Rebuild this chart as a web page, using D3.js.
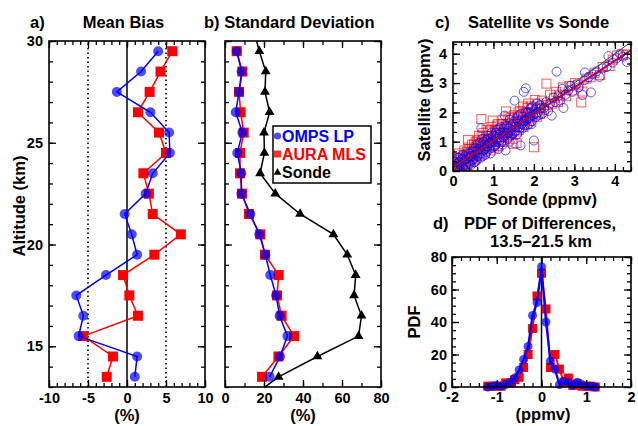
<!DOCTYPE html>
<html>
<head>
<meta charset="utf-8">
<script src="https://cdn.jsdelivr.net/npm/d3@7"></script>
<style>
  body { margin: 0; background: #fff; }
  svg text { font-family: 'Liberation Sans', Arial, Helvetica, sans-serif; font-weight: bold; fill: #000; }
</style>
</head>
<body>
<svg id="chart" width="638" height="426"></svg>
<script>
/* altitude levels, bottom to top (km) */
const altitudes = [13.5, 14.5, 15.5, 16.5, 17.5, 18.5, 19.5, 20.5, 21.5, 22.5, 23.5, 24.5, 25.5, 26.5, 27.5, 28.5, 29.5];
/* sonde line runs past the frame on both ends */
const sondeAltitudes = [12.5, 13.5, 14.5, 15.5, 16.5, 17.5, 18.5, 19.5, 20.5, 21.5, 22.5, 23.5, 24.5, 25.5, 26.5, 27.5, 28.5, 29.5, 30.5];

/* a) mean bias (%) */
const ompsBias = [1.0, 1.3, -6.2, -5.6, -6.5, -2.7, 1.3, 0.6, -0.3, 2.4, 3.3, 5.5, 5.4, 3.0, -1.3, 1.8, 4.0];
const mlsBias = [-2.6, -1.8, -5.6, 1.4, 0.3, -0.5, 3.5, 6.9, 3.3, 2.8, 2.1, 5.0, 4.1, 1.4, 2.9, 4.3, 5.8];

/* b) standard deviation (%) */
const ompsSD = [22.9, 28.2, 32.0, 28.0, 26.2, 23.2, 20.7, 17.6, 13.0, 8.4, 8.4, 6.3, 8.9, 5.5, 7.2, 8.5, 6.0];
const mlsSD = [19.0, 27.4, 35.4, 29.0, 26.7, 27.5, 20.5, 18.1, 12.3, 8.7, 7.7, 7.7, 9.6, 8.0, 7.2, 8.9, 6.0];
const sondeSD = [13.5, 27.5, 47.4, 68.5, 70.0, 66.2, 67.0, 62.7, 55.6, 38.5, 25.8, 18.0, 20.2, 20.0, 22.9, 20.5, 20.9, 17.6, 14.8];

/* c) satellite vs sonde (ppmv), [sonde, satellite] */
const ompsScatter = [
  [0.02,0.05],[0.05,0.15],[0.08,0.02],[0.1,0.25],[0.12,0.1],[0.15,0.3],[0.18,0.05],[0.2,0.2],[0.22,0.4],[0.25,0.15],
  [0.28,0.35],[0.3,0.5],[0.32,0.22],[0.35,0.45],[0.38,0.3],[0.4,0.6],[0.42,0.25],[0.45,0.5],[0.48,0.7],[0.5,0.4],
  [0.52,0.8],[0.55,0.55],[0.58,0.35],[0.6,0.7],[0.62,0.95],[0.65,0.6],[0.68,0.45],[0.7,0.85],[0.7,1.46],[0.72,1.1],
  [0.75,0.7],[0.78,0.9],[0.8,0.55],[0.82,1.05],[0.85,0.85],[0.88,1.2],[0.9,0.75],[0.92,0.95],[0.95,1.3],[0.98,0.8],
  [1.0,1.05],[1.02,1.2],[1.05,0.9],[1.08,1.4],[1.1,1.1],[1.12,0.75],[1.15,1.25],[1.18,1.5],[1.2,1.0],[1.22,1.35],
  [1.25,1.15],[1.28,1.89],[1.3,0.7],[1.32,1.3],[1.35,1.1],[1.38,1.45],[1.4,1.75],[1.42,1.2],[1.45,1.4],[1.48,1.6],
  [1.5,1.3],[1.52,2.4],[1.55,1.5],[1.58,1.25],[1.6,1.7],[1.62,1.9],[1.65,1.45],[1.67,0.87],[1.7,1.6],[1.72,1.85],
  [1.75,2.7],[1.78,1.55],[1.8,2.82],[1.82,1.75],[1.85,2.0],[1.88,1.6],[1.9,1.85],[1.92,2.15],[1.95,1.7],[1.98,1.9],
  [2.0,1.04],[2.02,2.1],[2.05,1.85],[2.07,2.17],[2.1,2.0],[2.15,2.25],[2.2,1.95],[2.25,2.15],[2.3,2.35],[2.35,2.05],
  [2.4,2.3],[2.44,1.89],[2.48,2.5],[2.52,2.35],[2.56,3.39],[2.6,2.55],[2.65,2.4],[2.7,2.8],[2.73,2.15],[2.78,2.6],
  [2.85,2.75],[2.9,2.9],[2.95,2.7],[3.05,2.95],[3.1,2.85],[3.2,2.59],[3.25,3.1],[3.26,3.36],[3.35,3.2],[3.41,2.68],
  [3.45,3.3],[3.55,3.4],[3.62,3.21],[3.7,3.5],[3.8,3.55],[3.84,3.92],[3.95,3.7],[4.05,3.85],[4.13,4.0],[4.2,3.9],[4.3,3.72],
  [0.04,0.3],[0.07,0.4],[0.13,0.45],[0.16,0.0],[0.19,0.5],[0.24,0.55],[0.27,0.05],[0.33,0.6],[0.36,0.15],[0.41,0.45],
  [0.44,0.2],[0.46,0.35],[0.5,0.65],[0.53,0.3],[0.56,0.8],[0.6,0.5],[0.63,0.75],[0.66,0.95],[0.69,0.6],[0.73,0.5],
  [0.76,1.0],[0.79,0.75],[0.83,0.65],[0.86,1.1],[0.89,0.95],[0.93,0.6],[0.96,1.0],[0.99,1.2],[1.03,0.85],[1.06,1.3],
  [1.09,1.0],[1.13,1.45],[1.16,1.05],[1.19,1.3],[1.23,0.9],[1.26,1.45],[1.29,1.2],[1.33,1.55],[1.36,1.3],[1.4,1.0],
  [1.43,1.55],[1.46,1.25],[1.5,1.7],[1.54,1.35],[1.57,1.8],[1.61,1.5],[1.64,1.65],[1.68,1.95],[1.71,1.45],[1.76,1.7],
  [1.79,2.0],[1.83,1.55],[1.86,1.8],[1.91,2.0],[1.94,1.6],[1.97,2.2],[2.03,1.95],[2.08,2.3],[2.12,1.9],[2.18,2.15]
];
const mlsScatter = [
  [0.03,0.1],[0.06,0.25],[0.09,0.05],[0.11,0.35],[0.14,0.15],[0.17,0.45],[0.2,0.1],[0.23,0.3],[0.26,0.55],[0.29,0.2],
  [0.31,0.4],[0.34,0.65],[0.37,1.06],[0.39,0.35],[0.41,0.75],[0.44,0.5],[0.47,0.9],[0.5,0.3],[0.53,0.65],[0.56,1.0],
  [0.59,0.5],[0.61,0.85],[0.64,1.2],[0.67,0.7],[0.7,1.77],[0.72,0.95],[0.75,1.3],[0.78,0.6],[0.81,1.1],[0.84,0.85],
  [0.87,1.35],[0.9,1.0],[0.93,0.7],[0.96,1.2],[0.98,1.72],[1.0,0.9],[1.03,1.4],[1.06,1.1],[1.09,1.55],[1.12,0.85],
  [1.15,1.3],[1.18,1.0],[1.21,1.6],[1.24,1.25],[1.27,1.45],[1.31,2.03],[1.33,1.15],[1.36,1.6],[1.39,1.35],[1.42,1.8],
  [1.45,1.1],[1.49,0.93],[1.52,1.5],[1.57,0.95],[1.6,1.85],[1.63,1.4],[1.66,2.05],[1.7,1.7],[1.74,1.5],[1.77,2.0],
  [1.8,1.75],[1.84,2.15],[1.88,1.8],[1.92,2.2],[1.96,1.95],[2.0,0.81],[2.02,2.42],[2.05,2.0],[2.1,2.3],[2.15,1.95],
  [2.2,2.4],[2.25,2.1],[2.31,2.98],[2.35,2.25],[2.4,2.6],[2.45,2.3],[2.5,2.5],[2.55,2.7],[2.6,2.35],[2.65,2.6],
  [2.72,2.85],[2.8,2.55],[2.88,2.9],[2.95,2.75],[3.02,3.0],[3.1,2.95],[3.17,2.34],[3.2,2.71],[3.3,3.15],[3.4,3.2],
  [3.5,3.35],[3.64,3.27],[3.7,3.55],[3.87,3.58],[3.95,3.8],[4.05,3.94],[4.2,3.95],[4.3,3.98],
  [0.02,0.3],[0.05,0.0],[0.08,0.45],[0.12,0.2],[0.15,0.6],[0.19,0.3],[0.22,0.05],[0.25,0.4],[0.28,0.7],[0.32,0.25],
  [0.35,0.5],[0.38,0.8],[0.42,0.35],[0.45,0.65],[0.48,0.45],[0.52,0.9],[0.55,0.4],[0.58,0.75],[0.62,1.05],[0.65,0.55],
  [0.68,0.9],[0.71,1.2],[0.74,0.75],[0.77,1.05],[0.8,0.8],[0.83,1.4],[0.86,0.95],[0.89,1.2],[0.92,0.85],[0.95,1.5],
  [0.99,1.1],[1.02,0.8],[1.05,1.35],[1.08,1.15],[1.11,1.6],[1.14,1.0],[1.17,1.4],[1.2,1.15],[1.23,1.75],[1.26,1.05],
  [1.3,1.5],[1.34,1.3],[1.37,1.85],[1.4,1.5],[1.44,1.3],[1.47,1.65],[1.51,1.9],[1.55,1.6],[1.58,1.35],[1.62,2.0],
  [1.65,1.6],[1.69,1.85],[1.73,2.2],[1.76,1.6],[1.81,1.95],[1.86,2.3],[1.9,1.7],[1.95,2.1],[2.08,1.85],[2.18,2.2]
];
/* linear fits [intercept, slope] */
const ompsFit = [0.12, 0.91];
const mlsFit = [0.13, 0.905];

/* d) PDF of differences */
const pdfBins = [-1.2, -1.1, -1.0, -0.9, -0.8, -0.7, -0.6, -0.5, -0.4, -0.3, -0.2, -0.1, 0, 0.1, 0.2, 0.3, 0.4, 0.5, 0.6, 0.7, 0.8, 0.9, 1.0, 1.1, 1.2];
const ompsPDF = [0, 0.5, 1, 0.5, 1.5, 3, 5.5, 10.5, 17, 25, 44, 52, 74, 40, 16, 11, 1.5, 3.5, 3, 1, 3, 1.5, 0.5, 0.5, 0];
const mlsPDF = [0.5, 0.5, 0.5, 0.5, 2.5, 2.5, 4.5, 6, 12, 20, 36, 56, 70, 48, 12, 20, 11, 3, 5.5, 1, 2, 0.5, 0.5, 0.5, 0];

/* tick labels */
const altTicks = [15, 20, 25, 30];
const biasTicks = [-10, -5, 0, 5, 10];
const sdTicks = [0, 20, 40, 60, 80];
const ppmvTicks = [0, 1, 2, 3, 4];
const diffTicks = [-2, -1, 0, 1, 2];
const pdfTicks = [0, 20, 40, 60, 80];

const BLUE = '#0000ff', RED = '#ff0000';
const svg = d3.select('#chart');
svg.append('rect').attr('width', 638).attr('height', 426).attr('fill', '#fff');

/* draws the box, inward ticks on all four sides, labels bottom/left */
function frame(g, x, y, o) {
  const [x0, x1] = x.range(), [y0, y1] = y.range();
  const fmt = d => String(d);
  const put = (axis, tx, ty) => g.append('g')
    .attr('transform', `translate(${tx},${ty})`)
    .call(axis)
    .call(s => s.select('.domain').remove())
    .call(s => s.selectAll('line').attr('stroke-width', 1.3))
    .call(s => s.selectAll('text').style('font-size', '14.5px').style('font-family', null));

  put(d3.axisBottom(x).tickValues(o.xMajor).tickSize(-7).tickPadding(o.xPad || 6).tickFormat(fmt), 0, y0);
  put(d3.axisBottom(x).tickValues(o.xMinor).tickSize(-4).tickFormat(''), 0, y0);
  put(d3.axisTop(x).tickValues(o.xMajor).tickSize(-7).tickFormat(''), 0, y1);
  put(d3.axisTop(x).tickValues(o.xMinor).tickSize(-4).tickFormat(''), 0, y1);
  put(d3.axisLeft(y).tickValues(o.yMajor).tickSize(-7).tickPadding(o.yPad || 6).tickFormat(o.yLabels ? fmt : ''), x0, 0);
  put(d3.axisLeft(y).tickValues(o.yMinor).tickSize(-4).tickFormat(''), x0, 0);
  put(d3.axisRight(y).tickValues(o.yMajor).tickSize(-7).tickFormat(''), x1, 0);
  put(d3.axisRight(y).tickValues(o.yMinor).tickSize(-4).tickFormat(''), x1, 0);

  g.append('rect')
    .attr('x', x0).attr('y', y1).attr('width', x1 - x0).attr('height', y0 - y1)
    .attr('fill', 'none').attr('stroke', '#000').attr('stroke-width', 1.6);
}

function text(str, x, y, size, anchor, rotate) {
  const t = svg.append('text').text(str)
    .attr('text-anchor', anchor || 'middle')
    .style('font-size', size + 'px');
  if (rotate) t.attr('transform', `translate(${x},${y}) rotate(-90)`);
  else t.attr('x', x).attr('y', y);
  return t;
}

function circles(g, data, x, y, r) {
  g.selectAll(null).data(data).join('circle')
    .attr('cx', d => x(d[0])).attr('cy', d => y(d[1])).attr('r', r)
    .attr('fill', BLUE).attr('fill-opacity', 0.7);
}
function squares(g, data, x, y, s) {
  g.selectAll(null).data(data).join('rect')
    .attr('x', d => x(d[0]) - s / 2).attr('y', d => y(d[1]) - s / 2)
    .attr('width', s).attr('height', s).attr('fill', RED);
}
function path(g, data, x, y, color, w) {
  g.append('path').datum(data)
    .attr('d', d3.line().x(d => x(d[0])).y(d => y(d[1])))
    .attr('fill', 'none').attr('stroke', color).attr('stroke-width', w);
}

/* ---------- a) Mean Bias ---------- */
const xA = d3.scaleLinear().domain([-10, 10]).range([49, 205]);
const yAlt = d3.scaleLinear().domain([13, 30]).range([387, 41]);
const gA = svg.append('g');

[-5, 5].forEach(v => gA.append('line')
  .attr('x1', xA(v)).attr('x2', xA(v)).attr('y1', yAlt(13)).attr('y2', yAlt(30))
  .attr('stroke', '#000').attr('stroke-width', 1.6).attr('stroke-dasharray', '1.5,3'));
gA.append('line')
  .attr('x1', xA(0)).attr('x2', xA(0)).attr('y1', yAlt(13)).attr('y2', yAlt(30))
  .attr('stroke', '#000').attr('stroke-width', 1.5);

const mlsBiasPts = altitudes.map((a, i) => [mlsBias[i], a]);
const ompsBiasPts = altitudes.map((a, i) => [ompsBias[i], a]);
path(gA, mlsBiasPts, xA, yAlt, RED, 1.5);
squares(gA, mlsBiasPts, xA, yAlt, 10);
path(gA, ompsBiasPts, xA, yAlt, BLUE, 1.5);
circles(gA, ompsBiasPts, xA, yAlt, 5);

frame(gA, xA, yAlt, {
  xMajor: biasTicks, xMinor: d3.range(-10, 10.01, 1),
  yMajor: altTicks, yMinor: d3.range(13, 30.01, 1), yLabels: true
});

/* ---------- b) Standard Deviation ---------- */
const xB = d3.scaleLinear().domain([0, 80]).range([225, 381]);
const gB = svg.append('g');
svg.append('clipPath').attr('id', 'clipB').append('rect')
  .attr('x', 225).attr('y', 41).attr('width', 156).attr('height', 346);

const mlsSDPts = altitudes.map((a, i) => [mlsSD[i], a]);
const ompsSDPts = altitudes.map((a, i) => [ompsSD[i], a]);
const sondePts = sondeAltitudes.map((a, i) => [sondeSD[i], a]);

path(gB, mlsSDPts, xB, yAlt, RED, 1.5);
squares(gB, mlsSDPts, xB, yAlt, 10);
path(gB, ompsSDPts, xB, yAlt, BLUE, 1.5);
circles(gB, ompsSDPts, xB, yAlt, 5);

const gSonde = gB.append('g').attr('clip-path', 'url(#clipB)');
path(gSonde, sondePts, xB, yAlt, '#000', 1.5);
gSonde.selectAll(null).data(sondePts).join('path')
  .attr('transform', d => `translate(${xB(d[0])},${yAlt(d[1])})`)
  .attr('d', d3.symbol().type(d3.symbolTriangle).size(42))
  .attr('fill', '#000');

frame(gB, xB, yAlt, {
  xMajor: sdTicks, xMinor: d3.range(0, 80.01, 10),
  yMajor: altTicks, yMinor: d3.range(13, 30.01, 1), yLabels: false
});

/* legend */
const leg = svg.append('g');
leg.append('rect').attr('x', 273).attr('y', 126).attr('width', 98).attr('height', 57)
  .attr('fill', '#fff').attr('stroke', '#000').attr('stroke-width', 1.5);
leg.append('circle').attr('cx', 277.5).attr('cy', 136).attr('r', 3.6).attr('fill', BLUE).attr('fill-opacity', 0.7);
leg.append('rect').attr('x', 274).attr('y', 150.5).attr('width', 7).attr('height', 7).attr('fill', RED).attr('fill-opacity', 0.8);
leg.append('path').attr('transform', 'translate(277.5,172.5)')
  .attr('d', d3.symbol().type(d3.symbolTriangle).size(26)).attr('fill', '#000');
[['OMPS LP', BLUE, 136], ['AURA MLS', RED, 154.5], ['Sonde', '#000', 172.5]].forEach(([t, c, yy]) =>
  text(t, 282, yy, 16, 'start').attr('dy', '0.36em').style('fill', c));

/* ---------- c) Satellite vs Sonde ---------- */
const xC = d3.scaleLinear().domain([0, 4.4]).range([453, 631]);
const yC = d3.scaleLinear().domain([0, 4.4]).range([171, 42]);
const gC = svg.append('g');
svg.append('clipPath').attr('id', 'clipC').append('rect')
  .attr('x', 453).attr('y', 42).attr('width', 178).attr('height', 129);
const gCin = gC.append('g').attr('clip-path', 'url(#clipC)');

gCin.selectAll(null).data(mlsScatter).join('rect')
  .attr('x', d => xC(d[0]) - 4.5).attr('y', d => yC(d[1]) - 4.5)
  .attr('width', 9).attr('height', 9)
  .attr('fill', 'none').attr('stroke', RED).attr('stroke-opacity', 0.65).attr('stroke-width', 1);
gCin.selectAll(null).data(ompsScatter).join('circle')
  .attr('cx', d => xC(d[0])).attr('cy', d => yC(d[1])).attr('r', 4.5)
  .attr('fill', 'none').attr('stroke', BLUE).attr('stroke-opacity', 0.65).attr('stroke-width', 1);

path(gCin, [[0, 0], [4.4, 4.4]], xC, yC, '#444', 1);
path(gCin, [[0, ompsFit[0]], [4.4, ompsFit[0] + 4.4 * ompsFit[1]]], xC, yC, BLUE, 1.5);
path(gCin, [[0, mlsFit[0]], [4.4, mlsFit[0] + 4.4 * mlsFit[1]]], xC, yC, '#d0002a', 1.5);

frame(gC, xC, yC, {
  xMajor: ppmvTicks, xMinor: d3.range(0, 4.41, 0.2), xPad: 5,
  yMajor: ppmvTicks, yMinor: d3.range(0, 4.41, 1 / 3), yLabels: true
});

/* ---------- d) PDF of Differences ---------- */
const xD = d3.scaleLinear().domain([-2, 2]).range([452, 631]);
const yD = d3.scaleLinear().domain([0, 80]).range([387, 257]);
const gD = svg.append('g');

gD.append('line').attr('x1', xD(0)).attr('x2', xD(0)).attr('y1', yD(0)).attr('y2', yD(80))
  .attr('stroke', '#000').attr('stroke-width', 1.5);

const mlsPDFPts = pdfBins.map((b, i) => [b, mlsPDF[i]]);
const ompsPDFPts = pdfBins.map((b, i) => [b, ompsPDF[i]]);
path(gD, mlsPDFPts, xD, yD, RED, 1.8);
squares(gD, mlsPDFPts, xD, yD, 9);
path(gD, ompsPDFPts, xD, yD, BLUE, 2.2);
circles(gD, ompsPDFPts, xD, yD, 4.5);

frame(gD, xD, yD, {
  xMajor: diffTicks, xMinor: d3.range(-2, 2.01, 0.2), xPad: 5,
  yMajor: pdfTicks, yMinor: d3.range(0, 80.01, 5), yLabels: true, yPad: 5
});

/* ---------- titles and axis labels ---------- */
text('a)', 30, 28, 16.5, 'start');
text('Mean Bias', 123.5, 28, 16.5);
text('b) Standard Deviation', 204, 28, 16.5, 'start');
text('c)', 435, 28, 16.5, 'start');
text('Satellite vs Sonde', 538.5, 28, 16.5);
text('d)', 433, 229, 16.5, 'start');
text('PDF of Differences,', 540, 229, 16.5);
text('13.5\u201321.5 km', 541, 247, 16.5);

text('Altitude (km)', 25, 206, 16.5, 'middle', true);
text('(%)', 127, 421, 16.5);
text('(%)', 303, 421, 16.5);
text('Satellite (ppmv)', 430, 100, 16.5, 'middle', true);
text('Sonde (ppmv)', 542, 205, 16.5);
text('PDF', 420, 322, 16.5, 'middle', true);
text('(ppmv)', 543, 420, 16.5);
</script>
</body>
</html>
